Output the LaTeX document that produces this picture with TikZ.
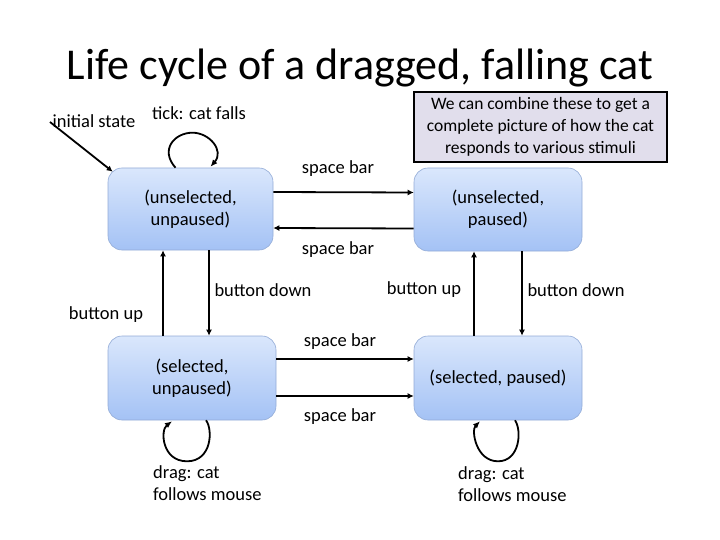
\documentclass[tikz,border=0pt]{standalone}
\usepackage{fontspec}
\setmainfont{Carlito}
\usetikzlibrary{arrows.meta,calc}
\definecolor{boxtop}{HTML}{DAE7FC}
\definecolor{boxbot}{HTML}{A4C2F5}
\definecolor{boxline}{HTML}{93ABD6}
\definecolor{notefill}{HTML}{E1DEEC}
\tikzset{
  state/.style={rectangle, rounded corners=14pt, draw=boxline, line width=0.6pt,
    top color=boxtop, bottom color=boxbot, align=center, font=\fontsize{18.5}{22}\selectfont},
  lbl/.style={font=\fontsize{18.5}{22}\selectfont, inner sep=0pt},
  conn/.style={line width=1.8pt, -{Latex[length=6pt,width=6pt]}},
  loopc/.style={line width=1.8pt, -{Latex[length=7pt,width=6pt]}},
}
\begin{document}
\begin{tikzpicture}[x=1pt,y=-1pt]
\useasboundingbox (0,0) rectangle (720,540);
% title
\node[font=\fontsize{44}{50}\selectfont, inner sep=0pt] (title) at (360,68) {Life cycle of a dragged, falling cat};
% note
\node[draw=black, line width=2.2pt, fill=notefill, minimum width=253pt, minimum height=70pt,
  align=center, font=\fontsize{17.5}{22}\selectfont, inner sep=0pt] (note) at (540.5,127)
  {We can combine these to get a\\complete picture of how the cat\\responds to various stimuli};
% states
\node[state, minimum width=165pt, minimum height=82pt] (UU) at (190.5,209) {(unselected,\\unpaused)};
\node[state, minimum width=168pt, minimum height=83pt] (UP) at (498,209.5) {(unselected,\\paused)};
\node[state, minimum width=168pt, minimum height=84pt] (SU) at (192,378) {(selected,\\unpaused)};
\node[state, minimum width=168pt, minimum height=84pt] (SP) at (498,378) {(selected, paused)};
% labels
\node[lbl] (linit) at (94,121) {initial state};
\node[lbl] (ltick) at (199,113) {tick: cat falls};
\node[lbl] (ls1) at (338,169) {space bar};
\node[lbl] (ls2) at (338,250) {space bar};
\node[lbl] (lbd1) at (263,290) {button down};
\node[lbl] (lbu1) at (106,315) {button up};
\node[lbl] (lbu2) at (424,290) {button up};
\node[lbl] (lbd2) at (576,290) {button down};
\node[lbl] (ls3) at (340,342) {space bar};
\node[lbl] (ls4) at (340,417) {space bar};
\node[lbl, align=left, anchor=north west] (ldrag1) at (153,465) {drag: cat\\follows mouse};
\node[lbl, align=left, anchor=north west] (ldrag2) at (458,466) {drag: cat\\follows mouse};
% initial arrow
\coordinate (istart) at (50,122);
\draw[conn] (istart) -- ([shift={(5,4)}]UU.north west);
% tick loop
\draw[loopc] ([shift={(-15,0)}]UU.north)
  .. controls ([shift={(-31,-18)}]UU.north) and ([shift={(-16,-35)}]UU.north) .. ([shift={(2,-35)}]UU.north)
  .. controls ([shift={(19,-35)}]UU.north) and ([shift={(34,-17)}]UU.north) .. ([shift={(20,-1)}]UU.north);
% horizontal arrows
\draw[conn] ([yshift=17pt]UU.east) -- ([yshift=17pt]UP.west);
\draw[conn] ([yshift=-19pt]UP.west) -- ([yshift=-19pt]UU.east);
\draw[conn] ([yshift=19pt]SU.east) -- ([yshift=19pt]SP.west);
\draw[conn] ([yshift=-18pt]SU.east) -- ([yshift=-18pt]SP.west);
% vertical arrows
\coordinate (v1) at (163,0);
\coordinate (v2) at (209,0);
\coordinate (v3) at (474,0);
\coordinate (v4) at (522,0);
\draw[conn] (SU.north -| v1) -- (UU.south -| v1);
\draw[conn] (UU.south -| v2) -- (SU.north -| v2);
\draw[conn] (SP.north -| v3) -- (UP.south -| v3);
\draw[conn] (UP.south -| v4) -- (SP.north -| v4);
% drag loops
\draw[loopc] ([shift={(14,0)}]SU.south)
  .. controls ([shift={(21,9)}]SU.south) and ([shift={(20,41)}]SU.south) .. ([shift={(-5,41)}]SU.south)
  .. controls ([shift={(-30,41)}]SU.south) and ([shift={(-32,10)}]SU.south) .. ([shift={(-20,1)}]SU.south);
\draw[loopc] ([shift={(17,0)}]SP.south)
  .. controls ([shift={(24,10)}]SP.south) and ([shift={(22,41)}]SP.south) .. ([shift={(0,41)}]SP.south)
  .. controls ([shift={(-22,41)}]SP.south) and ([shift={(-27,10)}]SP.south) .. ([shift={(-18,1)}]SP.south);
\end{tikzpicture}
\end{document}
